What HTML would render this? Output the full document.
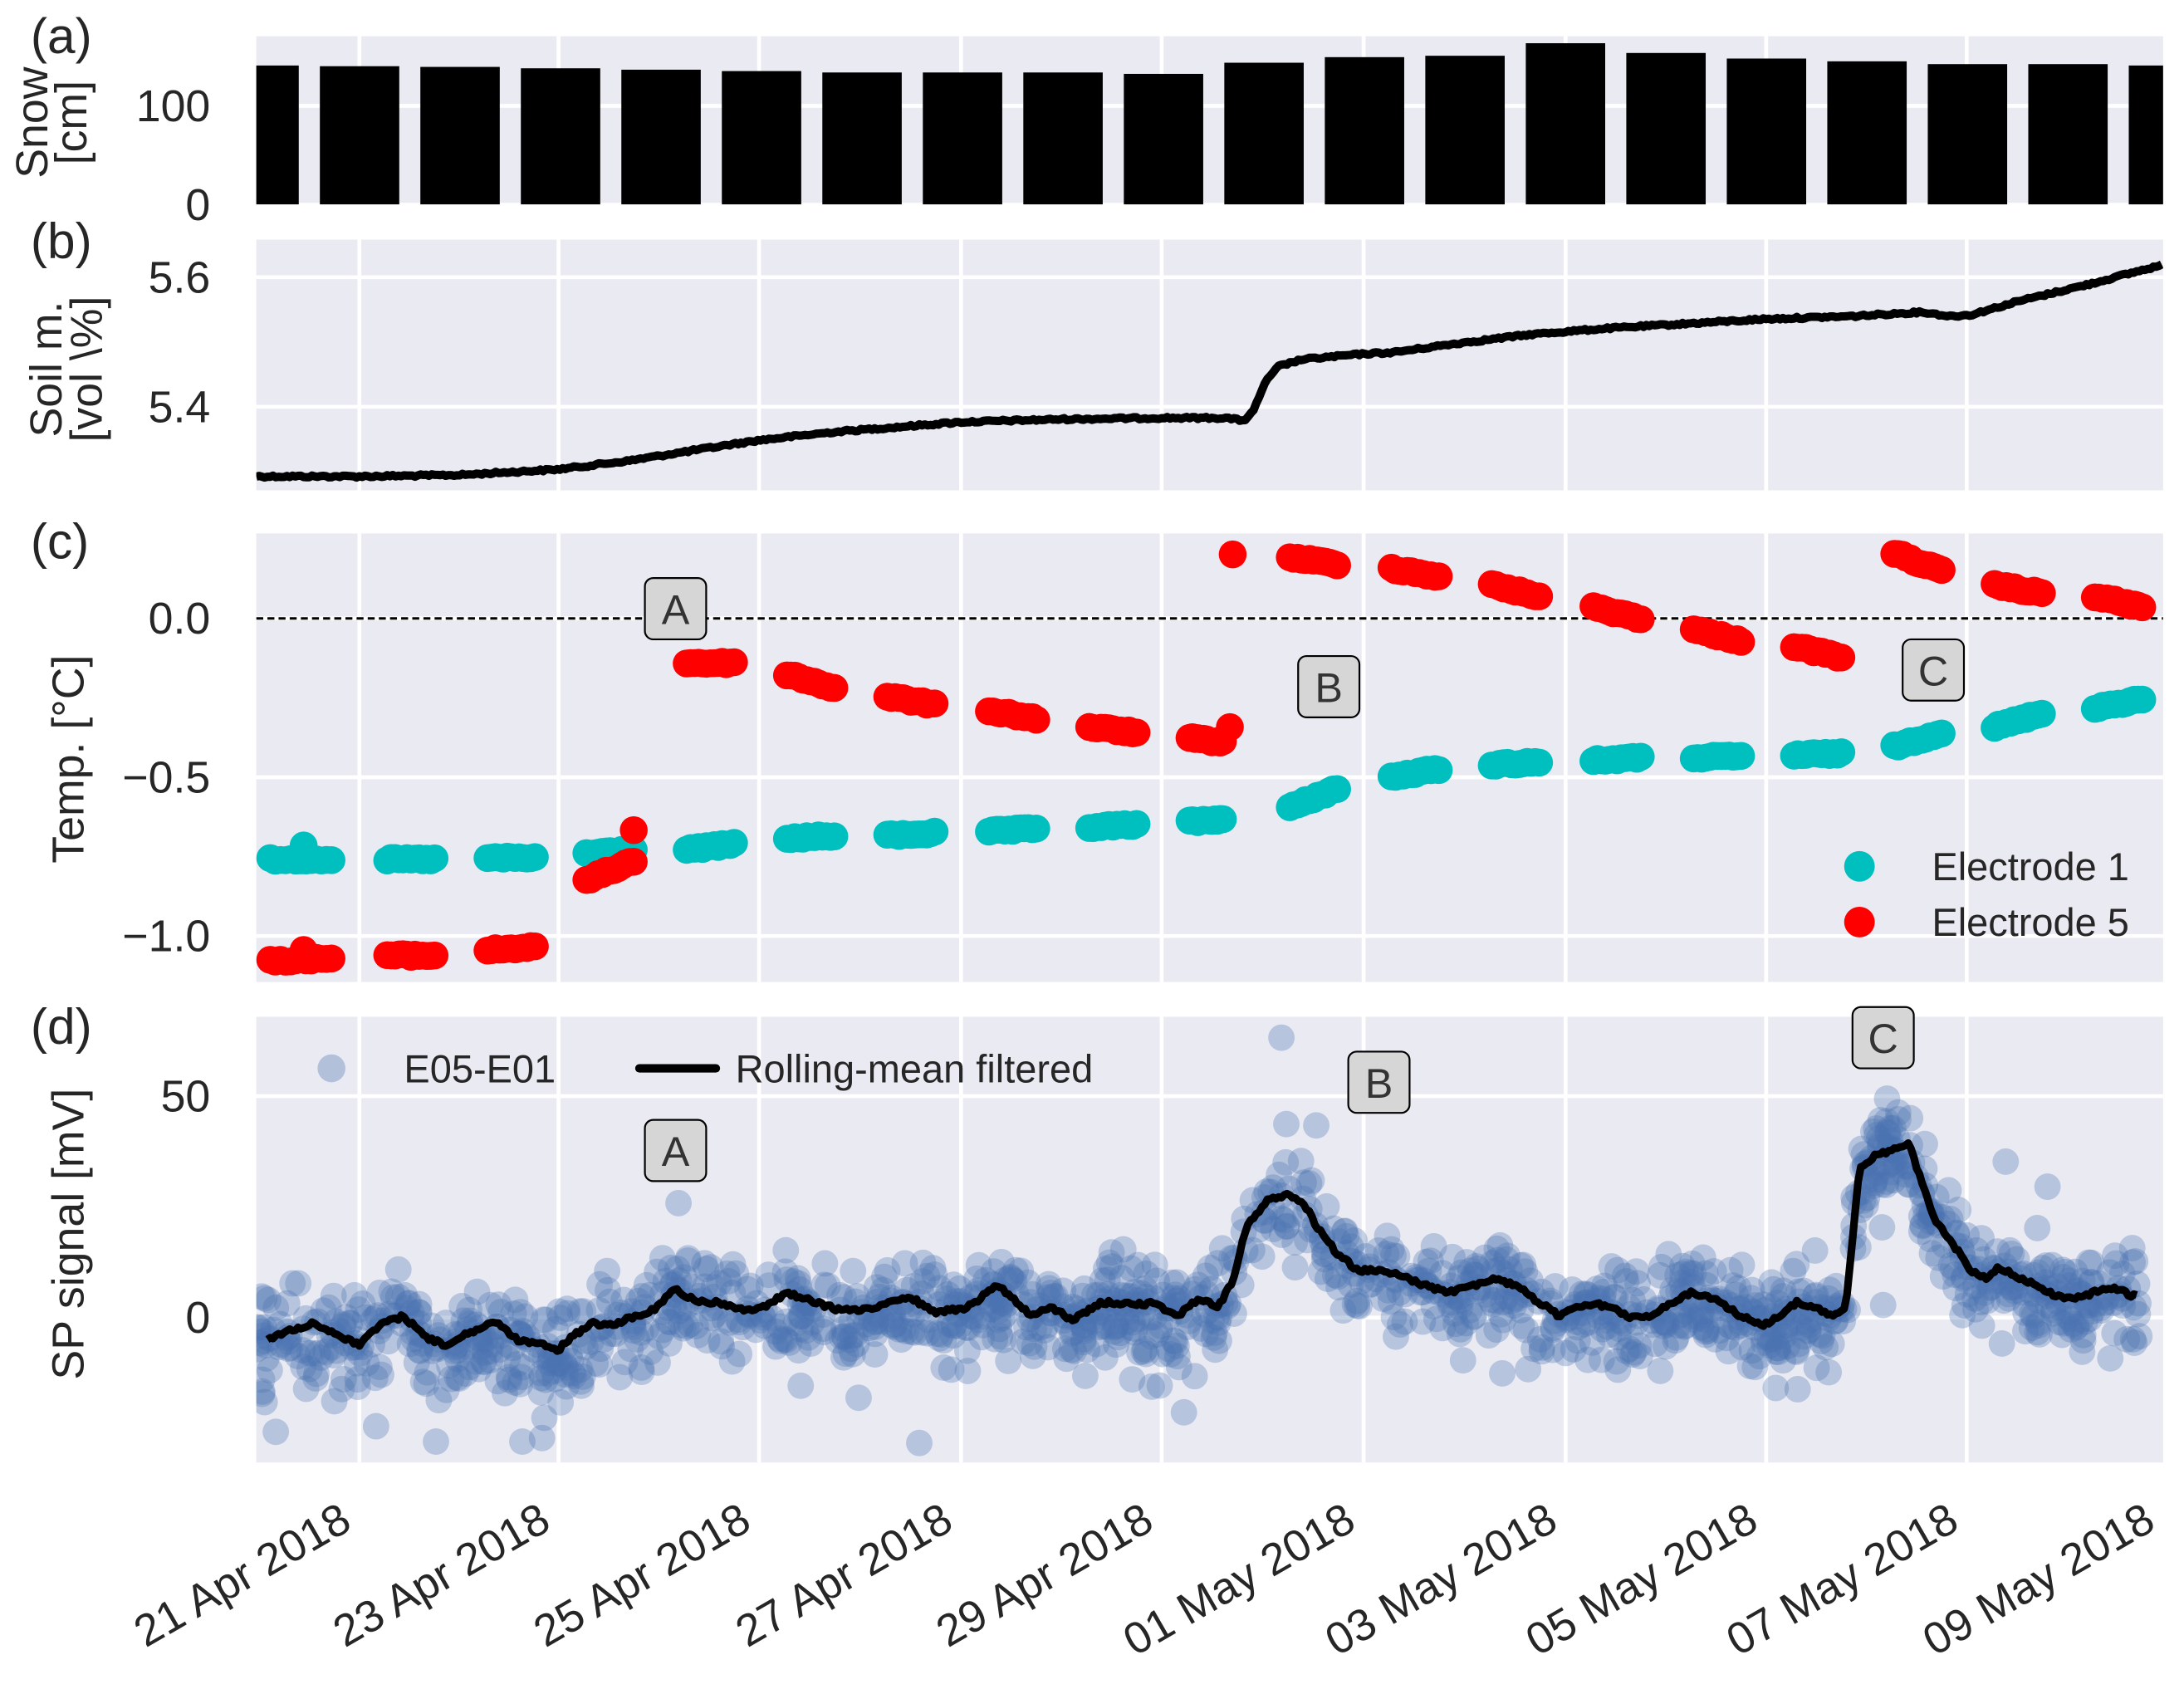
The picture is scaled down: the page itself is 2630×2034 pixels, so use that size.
<!DOCTYPE html>
<html><head><meta charset="utf-8"><style>
html,body{margin:0;padding:0;background:#fff;}
svg{display:block;font-family:"Liberation Sans",sans-serif;}
</style></head><body>
<svg id="s" width="2630" height="2034" viewBox="0 0 1568 1212.6" xmlns="http://www.w3.org/2000/svg">
<g id="g"></g>
</svg>
<script>
var NS="http://www.w3.org/2000/svg",G=document.getElementById('g');
function el(t,a,txt,p){var e=document.createElementNS(NS,t);for(var k in a)e.setAttribute(k,a[k]);if(txt!=null)e.textContent=txt;(p||G).appendChild(e);return e;}
var L=184,R=1553;
var panels=[[26,147],[172,352],[383,705],[730,1050]];
var gx=[258,401,545,690,834,979,1124,1268,1412];
var hg={0:[76,147],1:[199,292],2:[444,558,672],3:[787,946]};
panels.forEach(function(p,i){
 el('rect',{x:L,y:p[0],width:R-L,height:p[1]-p[0],fill:'#eaeaf2'});
 gx.forEach(function(x){el('line',{x1:x,x2:x,y1:p[0],y2:p[1],stroke:'#fff','stroke-width':2.8});});
 hg[i].forEach(function(y){el('line',{x1:L,x2:R,y1:y,y2:y,stroke:'#fff','stroke-width':2.8});});
});
var defs=el('defs',{});
panels.forEach(function(p,i){var c=el('clipPath',{id:'c'+i},null,defs);el('rect',{x:L,y:p[0],width:R-L,height:p[1]-p[0]},null,c);});
var seed=12345;function rnd(){seed=(seed*1103515245+12345)%2147483648;return seed/2147483648;}
function gau(){return (rnd()+rnd()+rnd()+rnd()-2)*1.7;}
var tops=[47,47.5,48,49,50,51,52,52,52,53,45,41,40,31,38,42,44,46,46,47,47];
var ga=el('g',{'clip-path':'url(#c0)'});
tops.forEach(function(t,i){var cx=186+72.15*i;el('rect',{x:cx-28.5,y:t,width:57,height:146.7-t,fill:'#000'},null,ga);});
var bp=[[184,342],[260,342],[330,341],[400,337],[450,331],[500,323],[545,316],[600,310],[690,303],[760,301],[834,300],[880,300],[893,302],[900,295],[908,275],[918,263],[935,258],[980,254],[1000,253],[1050,246],[1100,240],[1150,236],[1200,233],[1268,229],[1330,227],[1380,224],[1400,227],[1415,226],[1450,216],[1500,204],[1530,196],[1553,190]];
function interp(arr,x){for(var i=1;i<arr.length;i++)if(x<=arr[i][0]){var a=arr[i-1],b=arr[i];return a[1]+(b[1]-a[1])*(x-a[0])/(b[0]-a[0]);}return arr[arr.length-1][1];}
var s='';for(var x=184;x<=1553;x+=2){s+=(x>184?'L':'M')+x+','+(interp(bp,x)+(rnd()-0.5)*1.6).toFixed(1);}
el('path',{d:s,stroke:'#000','stroke-width':6,fill:'none','stroke-linejoin':'round'},null,el('g',{'clip-path':'url(#c1)'}));
var gc=el('g',{'clip-path':'url(#c2)'});
el('line',{x1:L,x2:R,y1:444,y2:444,stroke:'#000','stroke-width':1.8,'stroke-dasharray':'5,3'},null,gc);
var ds=[186,258,330,401,473,545,617,690,762,834,906,979,1051,1124,1196,1268,1340,1412,1484];
var cy=[[617,617],[617,617],[616,616],[613,610],[610,606],[602,600],[600,598],[597,595],[594,592],[590,588],[580,566],[558,552],[549,547],[546,544],[544,543],[542,541],[536,526],[522,512],[508,502]];
var ry=[[690,688],[686,686],[682,680],[632,618],[476,476],[484,494],[500,506],[510,516],[522,526],[530,533],[400,405],[408,414],[420,428],[436,444],[452,460],[464,472],[397,410],[420,426],[428,436]];
function seg(arr,col){arr.forEach(function(v,i){var x0=ds[i]+20,x1=ds[i]+54;if(i==0){x0=194;x1=238;}if(i==9)x1=ds[i]+44;
 for(var k=0;k<=12;k++){var x=x0+(x1-x0)*k/12,y=v[0]+(v[1]-v[0])*k/12+(rnd()-0.5)*2;el('circle',{cx:x,cy:y,r:10,fill:col},null,gc);}});}
seg(cy,'#00bfbf');seg(ry,'#ff0000');
el('circle',{cx:218,cy:607,r:10,fill:'#00bfbf'},null,gc);
el('circle',{cx:218,cy:682,r:10,fill:'#ff0000'},null,gc);
el('circle',{cx:455,cy:596,r:10,fill:'#ff0000'},null,gc);
el('circle',{cx:883,cy:522,r:10,fill:'#ff0000'},null,gc);
el('circle',{cx:885,cy:398,r:10,fill:'#ff0000'},null,gc);
el('circle',{cx:1335,cy:622,r:11,fill:'#00bfbf'});el('text',{x:1387,y:632,'font-size':28,fill:'#262626'},'Electrode 1');
el('circle',{cx:1335,cy:662,r:11,fill:'#ff0000'});el('text',{x:1387,y:672,'font-size':28,fill:'#262626'},'Electrode 5');
function box(cx,cy,t){el('rect',{x:cx-22,y:cy-22,width:44,height:44,rx:6,fill:'#d6d6d6',stroke:'#000','stroke-width':1.3});el('text',{x:cx,y:cy+11,'font-size':30,fill:'#333','text-anchor':'middle'},t);}
box(485,437,'A');box(954,493,'B');box(1388,481,'C');
var lp=[[192,962],[210,955],[225,950],[240,958],[258,965],[275,950],[290,945],[305,960],[320,966],[335,958],[355,948],[372,962],[385,964],[400,970],[410,960],[425,950],[440,952],[455,945],[470,940],[485,925],[500,935],[515,935],[530,940],[545,940],[565,928],[580,933],[600,940],[620,940],[640,935],[655,932],[670,942],[690,940],[700,935],[715,922],[725,930],[740,945],[755,938],[770,948],[790,935],[810,936],[830,936],[845,945],[860,933],[875,938],[885,920],[895,880],[910,862],[925,858],[935,862],[945,880],[960,900],[975,912],[990,912],[1005,915],[1020,922],[1040,928],[1060,922],[1075,918],[1090,924],[1105,935],[1120,945],[1130,938],[1145,936],[1160,940],[1170,946],[1185,946],[1200,935],[1215,928],[1230,932],[1250,945],[1265,952],[1278,945],[1290,935],[1305,940],[1315,945],[1325,940],[1335,840],[1345,830],[1360,825],[1370,820],[1380,850],[1390,878],[1400,890],[1415,912],[1425,918],[1435,910],[1445,915],[1460,922],[1480,932],[1495,932],[1510,925],[1520,925],[1530,930],[1535,930]];
var gd=el('g',{'clip-path':'url(#c3)'});
for(var i=0;i<1500;i++){var x=184+rnd()*1352;var y=interp(lp,x)+gau()*17+6;if(rnd()<0.08)y+=gau()*28;
 el('circle',{cx:x,cy:y,r:9.5,fill:'#4c72b0','fill-opacity':0.32},null,gd);}
[[920,745],[945,808],[270,1024],[313,1035],[375,1035],[660,1036],[850,1014],[1352,937],[1440,834],[1470,852],[198,1028],[240,1006]].forEach(function(q){el('circle',{cx:q[0],cy:q[1],r:9.5,fill:'#4c72b0','fill-opacity':0.32},null,gd);});
s='';for(var x=192;x<=1535;x+=2){s+=(x>192?'L':'M')+x+','+(interp(lp,x)+(rnd()-0.5)*3).toFixed(1);}
el('path',{d:s,stroke:'#000','stroke-width':5.5,fill:'none','stroke-linejoin':'round'},null,gd);
el('circle',{cx:238,cy:767,r:10,fill:'#4c72b0','fill-opacity':0.35});
el('text',{x:290,y:777,'font-size':28,fill:'#262626'},'E05-E01');
el('line',{x1:459,x2:514,y1:767,y2:767,stroke:'#000','stroke-width':6,'stroke-linecap':'round'});
el('text',{x:528,y:777,'font-size':28,fill:'#262626'},'Rolling-mean filtered');
box(485,826,'A');box(990,777,'B');box(1352,745,'C');
function yt(y,t){el('text',{x:151,y:y+11,'font-size':32,fill:'#262626','text-anchor':'end'},t);}
yt(76,'100');yt(147,'0');yt(199,'5.6');yt(292,'5.4');yt(444,'0.0');yt(558,'\u22120.5');yt(672,'\u22121.0');yt(787,'50');yt(946,'0');
var lab=['21 Apr 2018','23 Apr 2018','25 Apr 2018','27 Apr 2018','29 Apr 2018','01 May 2018','03 May 2018','05 May 2018','07 May 2018','09 May 2018'];
var lx=[258,401,545,690,834,979,1124,1268,1412,1553];
lab.forEach(function(t,i){var x=lx[i]-4,y=1097;el('text',{x:x,y:y,'font-size':32,fill:'#262626','text-anchor':'end',transform:'rotate(-30 '+x+' '+y+')'},t);});
function yl(x,y,t){el('text',{x:x,y:y,'font-size':32,fill:'#262626','text-anchor':'middle',transform:'rotate(-90 '+x+' '+y+')'},t);}
yl(34,88,'Snow');yl(62,88,'[cm]');yl(44,265,'Soil m.');yl(73,265,'[vol \\%]');yl(60,545,'Temp. [\u00b0C]');yl(60,886,'SP signal [mV]');
function pl(y,t){el('text',{x:22,y:y,'font-size':36,fill:'#262626'},t);}
pl(38,'(a)');pl(185,'(b)');pl(401,'(c)');pl(749,'(d)');
</script>
</body></html>
